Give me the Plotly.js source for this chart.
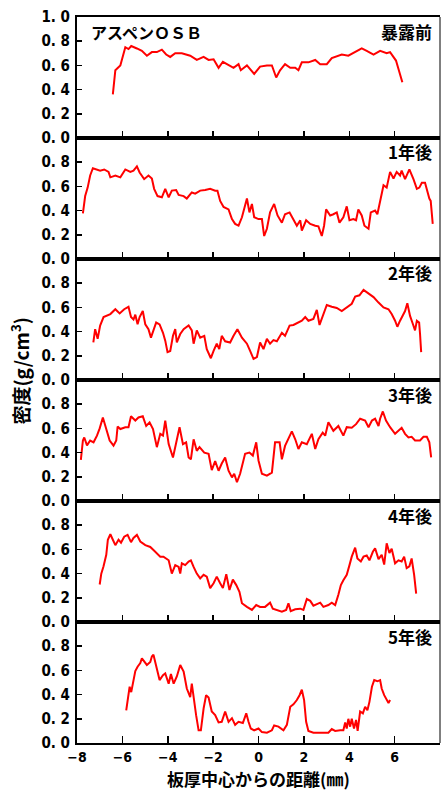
<!DOCTYPE html>
<html>
<head>
<meta charset="utf-8">
<script src="https://cdn.plot.ly/plotly-3.0.1.min.js"></script>
<style>
html,body{margin:0;padding:0;background:#fff;}
#chart{width:441px;height:792px;}
</style>
</head>
<body>
<div id="chart"></div>
<script>
// ---- data (distance from board centre, mm ; density g/cm3) ----
const panelLabels = ["暴露前", "1年後", "2年後", "3年後", "4年後", "5年後"];
const materialLabel = "アスペンＯＳＢ";
const xTickVals = [-8, -6, -4, -2, 0, 2, 4, 6, 8];
const yTickValsTop = [0, 0.2, 0.4, 0.6, 0.8, 1.0];
const yTickTextTop = ["0. 0", "0. 2", "0. 4", "0. 6", "0. 8", "1. 0"];
const yTickVals = [0, 0.2, 0.4, 0.6, 0.8];
const yTickText = ["0. 0", "0. 2", "0. 4", "0. 6", "0. 8"];

const x0 = [-6.42,-6.31,-6.09,-5.87,-5.73,-5.61,-5.36,-5.14,-4.92,-4.70,-4.48,-4.26,-4.07,-3.89,-3.67,-3.38,-3.01,-2.72,-2.42,-2.20,-1.98,-1.76,-1.57,-1.32,-1.10,-0.88,-0.78,-0.51,-0.19,0.07,0.37,0.59,0.78,0.95,1.17,1.40,1.62,1.76,1.91,2.20,2.50,2.72,3.01,3.23,3.45,3.67,3.96,4.26,4.55,4.77,5.07,5.36,5.65,5.80,5.95,6.06,6.17,6.27,6.34];
const y0 = [0.36,0.56,0.60,0.75,0.735,0.76,0.74,0.72,0.68,0.71,0.71,0.73,0.69,0.67,0.70,0.70,0.68,0.645,0.67,0.645,0.65,0.58,0.63,0.60,0.58,0.61,0.56,0.60,0.53,0.59,0.60,0.60,0.50,0.56,0.61,0.58,0.58,0.56,0.625,0.625,0.645,0.61,0.61,0.66,0.675,0.69,0.68,0.71,0.74,0.72,0.69,0.72,0.70,0.71,0.67,0.64,0.57,0.515,0.46];

const x1 = [-7.74,-7.64,-7.53,-7.42,-7.30,-7.12,-6.98,-6.80,-6.61,-6.53,-6.31,-6.09,-5.87,-5.65,-5.51,-5.36,-5.24,-5.04,-4.85,-4.70,-4.60,-4.45,-4.26,-4.11,-3.96,-3.82,-3.63,-3.52,-3.30,-3.16,-2.94,-2.79,-2.57,-2.35,-2.13,-1.91,-1.81,-1.69,-1.54,-1.32,-1.17,-1.03,-0.88,-0.73,-0.63,-0.51,-0.40,-0.29,-0.19,0.0,0.15,0.25,0.37,0.51,0.69,0.84,1.03,1.17,1.37,1.54,1.69,1.84,1.91,2.10,2.28,2.50,2.64,2.79,2.89,2.98,3.16,3.30,3.45,3.57,3.74,3.89,4.01,4.18,4.30,4.40,4.55,4.67,4.85,4.95,5.14,5.24,5.36,5.51,5.65,5.80,5.95,6.09,6.24,6.31,6.46,6.65,6.83,6.98,7.09,7.20,7.34,7.42,7.53,7.59,7.68];
const y1 = [0.377,0.52,0.59,0.69,0.75,0.74,0.73,0.74,0.72,0.675,0.69,0.675,0.74,0.72,0.73,0.765,0.715,0.66,0.69,0.665,0.58,0.52,0.51,0.58,0.51,0.565,0.57,0.53,0.52,0.50,0.55,0.54,0.565,0.57,0.58,0.565,0.565,0.48,0.43,0.41,0.33,0.29,0.275,0.345,0.41,0.50,0.385,0.455,0.345,0.33,0.33,0.19,0.25,0.385,0.455,0.36,0.30,0.37,0.385,0.32,0.275,0.32,0.235,0.32,0.29,0.275,0.27,0.19,0.275,0.41,0.36,0.37,0.385,0.30,0.345,0.435,0.32,0.33,0.32,0.41,0.36,0.275,0.25,0.385,0.40,0.37,0.48,0.61,0.59,0.72,0.665,0.72,0.69,0.73,0.66,0.74,0.66,0.58,0.59,0.63,0.63,0.565,0.50,0.48,0.29];

const x2 = [-7.28,-7.20,-7.09,-6.98,-6.83,-6.53,-6.31,-6.12,-5.92,-5.73,-5.62,-5.51,-5.43,-5.33,-5.24,-5.10,-4.99,-4.85,-4.74,-4.63,-4.51,-4.36,-4.21,-4.11,-4.01,-3.89,-3.77,-3.67,-3.60,-3.45,-3.30,-3.08,-2.94,-2.86,-2.72,-2.57,-2.39,-2.28,-2.10,-1.98,-1.84,-1.73,-1.62,-1.47,-1.25,-1.10,-0.93,-0.73,-0.51,-0.37,-0.22,-0.07,0.07,0.22,0.37,0.51,0.66,0.81,1.03,1.17,1.37,1.54,1.72,1.91,2.06,2.20,2.42,2.57,2.69,2.83,3.01,3.23,3.45,3.67,3.89,4.11,4.26,4.45,4.63,4.85,5.07,5.29,5.51,5.73,5.87,6.02,6.12,6.24,6.39,6.46,6.56,6.68,6.80,6.90,6.98,7.08,7.12,7.17];
const y2 = [0.31,0.42,0.34,0.45,0.52,0.545,0.585,0.55,0.585,0.605,0.52,0.50,0.54,0.46,0.52,0.57,0.46,0.42,0.35,0.42,0.475,0.46,0.39,0.325,0.23,0.24,0.365,0.42,0.31,0.38,0.42,0.45,0.41,0.30,0.41,0.35,0.365,0.255,0.18,0.24,0.30,0.255,0.365,0.32,0.31,0.365,0.42,0.35,0.30,0.24,0.175,0.19,0.31,0.255,0.34,0.30,0.33,0.32,0.39,0.365,0.45,0.455,0.475,0.49,0.52,0.49,0.505,0.58,0.455,0.53,0.62,0.605,0.595,0.57,0.60,0.63,0.69,0.70,0.745,0.715,0.685,0.64,0.60,0.585,0.545,0.49,0.44,0.49,0.545,0.57,0.635,0.53,0.465,0.41,0.49,0.475,0.38,0.23];

const x3 = [-7.83,-7.74,-7.68,-7.56,-7.42,-7.27,-7.12,-7.00,-6.86,-6.71,-6.56,-6.39,-6.27,-6.21,-6.09,-5.87,-5.73,-5.62,-5.43,-5.29,-5.10,-4.95,-4.80,-4.65,-4.48,-4.33,-4.21,-4.11,-3.96,-3.77,-3.63,-3.48,-3.33,-3.19,-3.08,-2.98,-2.86,-2.72,-2.60,-2.39,-2.20,-2.06,-1.91,-1.76,-1.62,-1.47,-1.32,-1.17,-1.07,-0.95,-0.81,-0.59,-0.40,-0.25,-0.10,0.0,0.15,0.37,0.59,0.73,0.93,1.03,1.17,1.32,1.47,1.62,1.76,1.91,2.13,2.35,2.50,2.64,2.83,2.94,3.08,3.30,3.52,3.74,3.89,4.11,4.30,4.48,4.70,4.85,5.00,5.14,5.29,5.36,5.48,5.62,5.80,6.02,6.17,6.31,6.46,6.61,6.75,6.90,7.12,7.27,7.42,7.53,7.61];
const y3 = [0.34,0.50,0.525,0.46,0.50,0.485,0.54,0.60,0.69,0.595,0.50,0.457,0.50,0.615,0.595,0.61,0.61,0.70,0.665,0.69,0.70,0.62,0.65,0.595,0.445,0.555,0.54,0.665,0.47,0.36,0.47,0.61,0.47,0.485,0.36,0.345,0.51,0.415,0.445,0.40,0.39,0.255,0.33,0.25,0.31,0.36,0.25,0.195,0.225,0.155,0.225,0.39,0.40,0.375,0.485,0.335,0.225,0.21,0.235,0.485,0.485,0.345,0.455,0.51,0.575,0.51,0.43,0.485,0.47,0.555,0.43,0.51,0.565,0.54,0.65,0.58,0.62,0.54,0.61,0.605,0.635,0.68,0.665,0.61,0.665,0.68,0.62,0.68,0.74,0.665,0.61,0.555,0.58,0.605,0.555,0.525,0.53,0.50,0.50,0.53,0.53,0.485,0.36];

const x4 = [-7.00,-6.93,-6.83,-6.71,-6.64,-6.53,-6.42,-6.31,-6.17,-6.06,-5.92,-5.77,-5.62,-5.51,-5.36,-5.21,-4.99,-4.77,-4.63,-4.48,-4.33,-4.19,-3.96,-3.82,-3.67,-3.52,-3.45,-3.38,-3.23,-3.08,-2.98,-2.86,-2.72,-2.57,-2.42,-2.28,-2.13,-1.98,-1.84,-1.69,-1.57,-1.42,-1.28,-1.13,-0.98,-0.84,-0.73,-0.51,-0.29,-0.10,0.07,0.29,0.51,0.63,0.81,1.03,1.22,1.32,1.42,1.62,1.84,1.98,2.13,2.28,2.42,2.57,2.72,2.86,3.08,3.23,3.38,3.52,3.63,3.74,3.89,4.01,4.11,4.26,4.36,4.51,4.63,4.77,4.89,5.04,5.14,5.29,5.43,5.54,5.65,5.77,5.87,6.02,6.17,6.31,6.42,6.53,6.65,6.75,6.86,6.95];
const y4 = [0.31,0.40,0.46,0.555,0.68,0.725,0.68,0.635,0.68,0.655,0.705,0.72,0.66,0.695,0.72,0.665,0.635,0.62,0.595,0.565,0.54,0.54,0.51,0.40,0.47,0.455,0.40,0.485,0.47,0.50,0.51,0.455,0.40,0.36,0.39,0.375,0.28,0.32,0.375,0.32,0.28,0.395,0.265,0.35,0.305,0.25,0.155,0.125,0.10,0.14,0.125,0.125,0.16,0.11,0.10,0.085,0.10,0.155,0.09,0.105,0.11,0.10,0.19,0.175,0.135,0.145,0.16,0.125,0.14,0.16,0.14,0.225,0.305,0.345,0.39,0.47,0.54,0.615,0.525,0.50,0.54,0.55,0.51,0.58,0.61,0.52,0.555,0.475,0.65,0.57,0.605,0.485,0.51,0.50,0.54,0.445,0.46,0.525,0.39,0.235];

const x5 = [-5.83,-5.76,-5.68,-5.61,-5.51,-5.43,-5.33,-5.21,-5.14,-5.04,-4.92,-4.77,-4.70,-4.63,-4.51,-4.36,-4.21,-4.11,-3.96,-3.86,-3.74,-3.60,-3.45,-3.30,-3.16,-3.08,-3.01,-2.94,-2.86,-2.75,-2.64,-2.54,-2.42,-2.31,-2.20,-2.06,-1.91,-1.76,-1.62,-1.47,-1.32,-1.17,-1.03,-0.88,-0.69,-0.54,-0.44,-0.34,-0.19,0.0,0.15,0.37,0.59,0.69,0.88,1.10,1.25,1.40,1.54,1.69,1.81,1.91,2.01,2.10,2.20,2.42,2.72,3.08,3.23,3.38,3.60,3.74,3.82,3.89,3.96,4.04,4.11,4.21,4.30,4.37,4.48,4.60,4.70,4.80,4.89,5.00,5.10,5.24,5.36,5.43,5.54,5.65,5.73,5.80];
const y5 = [0.27,0.385,0.465,0.42,0.52,0.595,0.63,0.66,0.70,0.67,0.645,0.67,0.715,0.73,0.645,0.52,0.56,0.575,0.49,0.57,0.49,0.55,0.645,0.59,0.45,0.41,0.38,0.49,0.37,0.23,0.105,0.105,0.285,0.395,0.375,0.26,0.23,0.17,0.175,0.26,0.175,0.205,0.15,0.175,0.165,0.245,0.175,0.12,0.105,0.12,0.09,0.085,0.105,0.145,0.135,0.105,0.15,0.30,0.32,0.355,0.395,0.44,0.355,0.175,0.10,0.085,0.085,0.085,0.115,0.10,0.105,0.105,0.17,0.12,0.20,0.135,0.20,0.12,0.19,0.10,0.26,0.245,0.30,0.27,0.34,0.465,0.52,0.51,0.52,0.45,0.395,0.355,0.33,0.355];

const seriesX = [x0, x1, x2, x3, x4, x5];
const seriesY = [y0, y1, y2, y3, y4, y5];

// ---- build figure ----
const N = 6;
const tickFont = {family: "Liberation Sans Narrow, DejaVu Sans Condensed, sans-serif", size: 15, color: "#000", weight: "bold"};
const xTickFont = {family: "Liberation Sans Narrow, DejaVu Sans Condensed, sans-serif", size: 14, color: "#000", weight: "bold"};

const traces = [];
const layout = {
  width: 441, height: 792,
  margin: {l: 77, r: 1, t: 17, b: 49},
  paper_bgcolor: "#fff", plot_bgcolor: "#fff",
  showlegend: false,
  annotations: [], shapes: []
};

for (let i = 0; i < N; i++) {
  const sfx = i === 0 ? "" : String(i + 1);
  traces.push({
    x: seriesX[i], y: seriesY[i], type: "scatter", mode: "lines",
    line: {color: "#ff0000", width: 2},
    xaxis: "x" + sfx, yaxis: "y" + sfx, hoverinfo: "skip"
  });
  const top = 1 - i / N, bot = 1 - (i + 1) / N;
  layout["xaxis" + sfx] = {
    domain: [0, 1], anchor: "y" + sfx, range: [-8, 8],
    tickvals: xTickVals, ticks: "inside", ticklen: 7, tickwidth: 1.5, tickcolor: "#000",
    showticklabels: i === N - 1, tickfont: xTickFont,
    showline: true, linecolor: "#000", linewidth: 2, mirror: true,
    showgrid: false, zeroline: false, fixedrange: true
  };
  if (i > 0) layout["xaxis" + sfx].matches = "x";
  layout["yaxis" + sfx] = {
    domain: [bot, top], anchor: "x" + sfx, range: [0, 1],
    tickvals: i === 0 ? yTickValsTop : yTickVals,
    ticktext: i === 0 ? yTickTextTop : yTickText,
    ticks: "inside", ticklen: 5, tickwidth: 1.5, tickcolor: "#000",
    tickfont: tickFont, ticklabelstandoff: 2,
    showline: true, linecolor: "#000", linewidth: 2,
    showgrid: false, zeroline: false, fixedrange: true
  };
  layout.annotations.push({
    xref: "paper", yref: "paper", x: 1, y: top, xanchor: "right", yanchor: "middle",
    xshift: -6, yshift: -14, showarrow: false, text: panelLabels[i],
    font: {family: "Liberation Sans Narrow, Noto Sans CJK JP, sans-serif", size: 17, color: "#000", weight: "bold"}
  });
}

layout.annotations.push({
  xref: "paper", yref: "paper", x: 0, y: 1, xanchor: "left", yanchor: "middle",
  xshift: 12, yshift: -15, showarrow: false, text: materialLabel,
  font: {family: "Noto Sans CJK JP, sans-serif", size: 16, color: "#000", weight: "bold"}
});
layout.annotations.push({
  xref: "paper", yref: "paper", x: 0, y: 0.513, xanchor: "center", yanchor: "middle",
  xshift: -57, textangle: -90, showarrow: false, text: "密度(g/cm<sup>3</sup>)",
  font: {family: "Liberation Sans Narrow, Noto Sans CJK JP, sans-serif", size: 19, color: "#000", weight: "bold"}
});
layout.annotations.push({
  xref: "paper", yref: "paper", x: 0.5, y: 0, xanchor: "center", yanchor: "bottom",
  yshift: -49, borderpad: 0, showarrow: false, text: "板厚中心からの距離(㎜)",
  font: {family: "Noto Sans CJK JP, sans-serif", size: 17, color: "#000", weight: "bold"}
});
layout.shapes.push({
  type: "line", xref: "paper", yref: "paper", x0: 1, x1: 1, y0: 0, y1: 1,
  line: {color: "#000", width: 1}
});

Plotly.newPlot("chart", traces, layout, {staticPlot: true, displayModeBar: false});
</script>
</body>
</html>
